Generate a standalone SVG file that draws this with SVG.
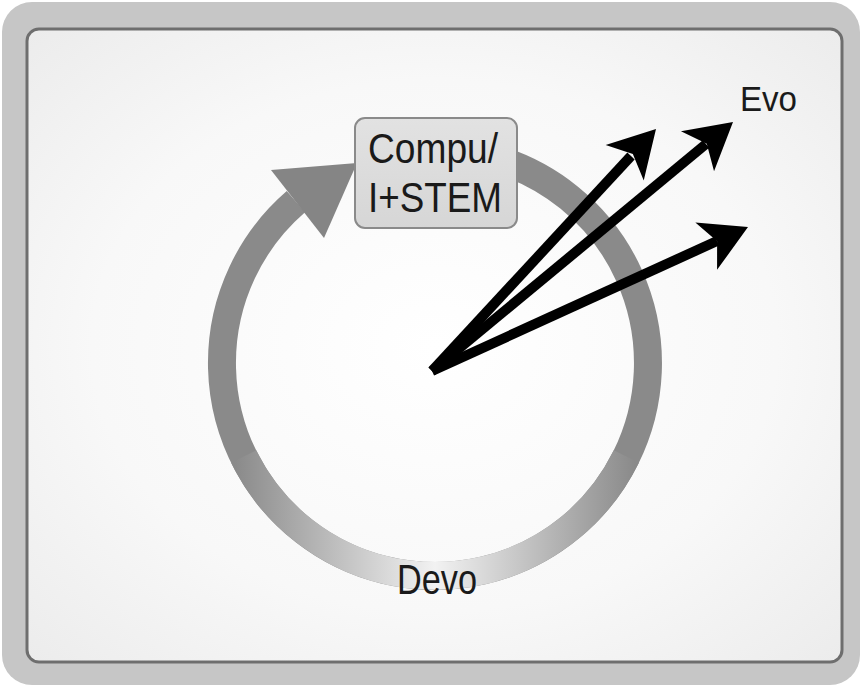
<svg xmlns="http://www.w3.org/2000/svg" width="861" height="686" viewBox="0 0 861 686">
<style>
.lbl{font-family:"Liberation Sans",Arial,sans-serif;fill:#1a1a1a}
.shaft{stroke:#000;stroke-width:10;fill:none}
.head{fill:#000}
</style>
<defs>
<radialGradient id="bg" cx="0.5" cy="0.5" r="0.7">
<stop offset="0" stop-color="#ffffff"/>
<stop offset="0.6" stop-color="#f8f8f8"/>
<stop offset="1" stop-color="#ececec"/>
</radialGradient>
<linearGradient id="ringLight" gradientUnits="userSpaceOnUse" x1="235" y1="0" x2="635" y2="0">
<stop offset="0" stop-color="#8a8a8a"/>
<stop offset="0.5" stop-color="#f2f2f2"/>
<stop offset="1" stop-color="#8a8a8a"/>
</linearGradient>
<linearGradient id="boxFill" x1="0" y1="0" x2="0" y2="1">
<stop offset="0" stop-color="#e2e2e2"/>
<stop offset="1" stop-color="#d6d6d6"/>
</linearGradient>
<path id="ah" d="M0,0 L-46,-26 L-34,0 L-46,26 Z"/>
</defs>
<g id="frame">
<rect x="2" y="2" width="858" height="683" rx="30" fill="#c6c6c6"/>
<rect x="27" y="29" width="815" height="633" rx="12" fill="url(#bg)" stroke="#6e6e6e" stroke-width="3"/>
</g>
<g id="cycle">
<path d="M490.1,157.3 A213,213 0 1 1 295.9,201.7" fill="none" stroke="#8a8a8a" stroke-width="28"/>
<path d="M626.3,456.5 A213,213 0 0 1 243.7,456.5" fill="none" stroke="url(#ringLight)" stroke-width="28"/>
<polygon points="271,170 357,163 324,238" fill="#858585"/>
</g>
<g id="node-compu">
<rect x="355" y="118" width="162" height="110" rx="10" fill="url(#boxFill)" stroke="#8a8a8a" stroke-width="2"/>
<text class="lbl" x="368" y="163" font-size="43" textLength="130" lengthAdjust="spacingAndGlyphs">Compu/</text>
<text class="lbl" x="368" y="212" font-size="43" textLength="134" lengthAdjust="spacingAndGlyphs">I+STEM</text>
</g>
<g id="connectors">
<line class="shaft" x1="432" y1="371" x2="631" y2="156"/>
<use href="#ah" class="head" transform="translate(656,129) rotate(-47.1)"/>
<line class="shaft" x1="432" y1="371" x2="706" y2="144"/>
<use href="#ah" class="head" transform="translate(733,122) rotate(-39.5)"/>
<line class="shaft" x1="432" y1="371" x2="717" y2="241"/>
<use href="#ah" class="head" transform="translate(748,227) rotate(-24.7)"/>
</g>
<g id="node-evo">
<text class="lbl" x="740" y="111" font-size="35" textLength="57" lengthAdjust="spacingAndGlyphs">Evo</text>
</g>
<g id="node-devo">
<text class="lbl" x="397" y="594" font-size="43" textLength="80" lengthAdjust="spacingAndGlyphs">Devo</text>
</g>
</svg>
